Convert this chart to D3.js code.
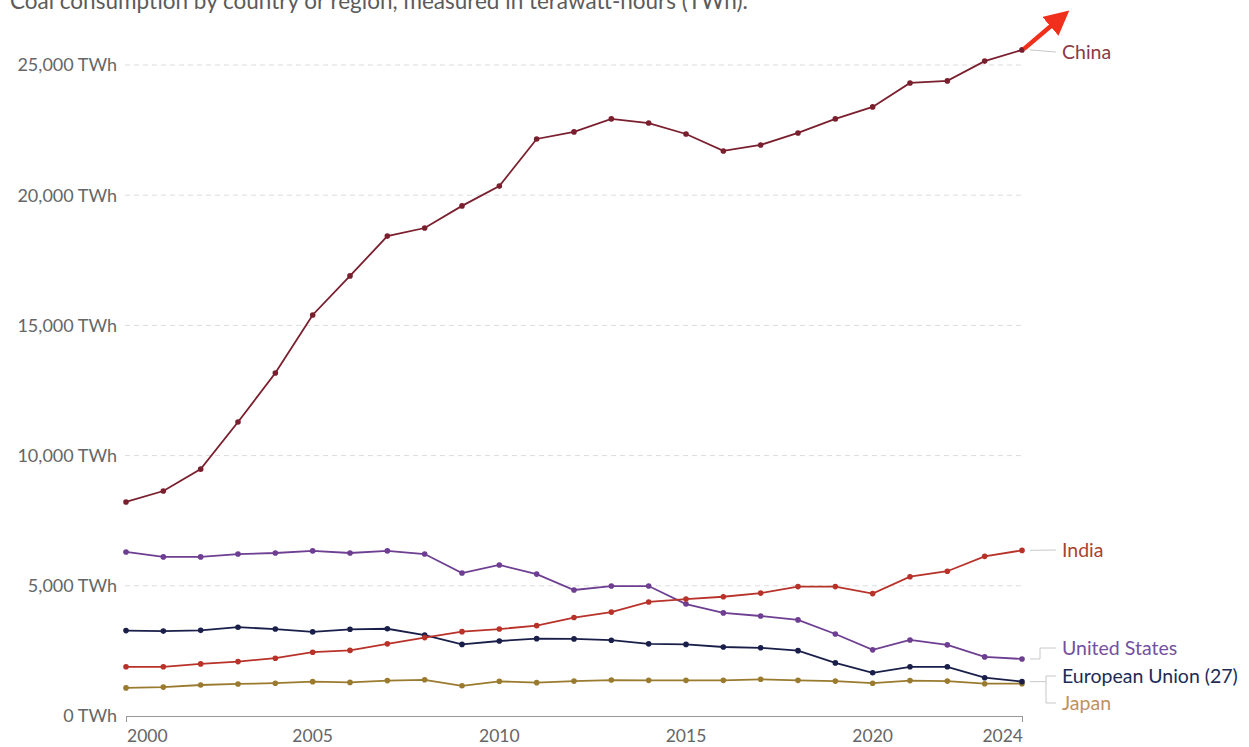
<!DOCTYPE html>
<html>
<head>
<meta charset="utf-8">
<script src="https://cdn.jsdelivr.net/npm/d3@7"></script>
<style>
  body { margin: 0; background: #fff; }
  svg { display: block; font-family: Lato, "Noto Sans", sans-serif; }
</style>
</head>
<body>
<svg width="1249" height="747"></svg>
<script>
// years 2000-2024
const years = [2000,2001,2002,2003,2004,2005,2006,2007,2008,2009,2010,2011,2012,2013,2014,2015,2016,2017,2018,2019,2020,2021,2022,2023,2024];
const china = [8220,8640,9480,11290,13170,15400,16900,18430,18740,19590,20350,22160,22430,22930,22770,22350,21700,21930,22390,22930,23390,24310,24390,25150,25580];
const india = [1890,1890,2000,2090,2220,2450,2520,2770,3010,3240,3340,3470,3780,3990,4380,4490,4580,4720,4970,4970,4700,5350,5560,6130,6360];
const unitedStates = [6300,6110,6110,6220,6260,6340,6260,6340,6220,5490,5800,5450,4840,4990,4990,4300,3960,3840,3690,3150,2540,2920,2730,2270,2190];
const europeanUnion = [3280,3260,3290,3410,3340,3230,3330,3350,3110,2750,2880,2970,2960,2910,2770,2750,2650,2620,2510,2040,1660,1890,1890,1470,1320];
const japan = [1080,1110,1190,1230,1260,1320,1290,1360,1390,1160,1330,1280,1340,1380,1370,1370,1370,1410,1370,1340,1260,1360,1340,1240,1240];
const yTicks = [0,5000,10000,15000,20000,25000];
const xTicks = [2000,2005,2010,2015,2020,2024];

const series = [
  {name: "China", values: china, color: "#7a1f2e", labelColor: "#8a3a48", labelY: 52},
  {name: "India", values: india, color: "#b8322a", labelColor: "#a8432e", labelY: 550},
  {name: "United States", values: unitedStates, color: "#6d3e91", labelColor: "#7550a0", labelY: 648},
  {name: "European Union (27)", values: europeanUnion, color: "#1a1f4a", labelColor: "#1d2b55", labelY: 676},
  {name: "Japan", values: japan, color: "#9a7a2e", labelColor: "#c0915e", labelY: 703}
];

const svg = d3.select("svg");
const x = d3.scaleLinear().domain([2000, 2024]).range([126, 1022]);
const y = d3.scaleLinear().domain([0, 25000]).range([716, 65]);

// subtitle, cut off at top like the source screenshot
svg.append("text")
  .attr("x", 10).attr("y", 9)
  .attr("font-size", "22.5px")
  .attr("fill", "#5b5b5b")
  .text("Coal consumption by country or region, measured in terawatt-hours (TWh).");

// gridlines + y labels
yTicks.forEach(function(t) {
  if (t > 0) {
    svg.append("line")
      .attr("x1", 125).attr("x2", 1022)
      .attr("y1", y(t)).attr("y2", y(t))
      .attr("stroke", "#dcdcdc")
      .attr("stroke-dasharray", "5,4");
  }
  svg.append("text")
    .attr("x", 117).attr("y", y(t))
    .attr("dy", "0.35em")
    .attr("text-anchor", "end")
    .attr("font-size", "18px")
    .attr("fill", "#666")
    .text(d3.format(",")(t) + " TWh");
});

// x axis
svg.append("line")
  .attr("x1", x(2000)).attr("x2", x(2024))
  .attr("y1", 716.5).attr("y2", 716.5)
  .attr("stroke", "#999");
[2000, 2024].forEach(function(t) {
  svg.append("line")
    .attr("x1", x(t) + 0.5).attr("x2", x(t) + 0.5)
    .attr("y1", 716).attr("y2", 722)
    .attr("stroke", "#999");
});
xTicks.forEach(function(t, i) {
  svg.append("text")
    .attr("x", i === 0 ? x(t) + 1 : (t === 2024 ? x(t) + 1 : x(t)))
    .attr("y", 742)
    .attr("text-anchor", i === 0 ? "start" : (t === 2024 ? "end" : "middle"))
    .attr("font-size", "17.5px")
    .attr("fill", "#666")
    .text(t);
});

// lines
const line = d3.line()
  .x(function(d, i) { return x(years[i]); })
  .y(function(d) { return y(d); });

series.slice().reverse().forEach(function(s) {
  svg.append("path")
    .datum(s.values)
    .attr("fill", "none")
    .attr("stroke", s.color)
    .attr("stroke-width", 1.8)
    .attr("d", line);
  svg.selectAll(null)
    .data(s.values)
    .enter().append("circle")
    .attr("cx", function(d, i) { return x(years[i]); })
    .attr("cy", function(d) { return y(d); })
    .attr("r", 2.8)
    .attr("fill", s.color);
});

// connectors and labels
const lastX = x(2024);
const conn = svg.append("g").attr("fill", "none").attr("stroke", "#c8c8c8").attr("stroke-width", 1);
series.forEach(function(s) {
  const yEnd = y(s.values[s.values.length - 1]);
  if (s.name === "China" || s.name === "India") {
    conn.append("path").attr("d", "M" + (lastX + 8) + "," + yEnd + "L" + 1056 + "," + s.labelY);
  } else if (s.name === "United States") {
    conn.append("path").attr("d", "M" + (lastX + 8) + "," + yEnd + "H1040V" + s.labelY + "H1056");
  }
  svg.append("text")
    .attr("x", 1062).attr("y", s.labelY)
    .attr("dy", "0.35em")
    .attr("font-size", "19.5px")
    .attr("fill", s.labelColor)
    .text(s.name);
});
// bracket for EU + Japan
const yEu = y(europeanUnion[europeanUnion.length - 1]);
conn.append("path").attr("d", "M" + (lastX + 8) + "," + yEu + "H1046");
conn.append("path").attr("d", "M1056,676H1046V703H1056");

// red arrow annotation
const defs = svg.append("defs");
defs.append("marker")
  .attr("id", "arrow")
  .attr("viewBox", "0 0 10 10")
  .attr("refX", 4).attr("refY", 5)
  .attr("markerWidth", 5.5).attr("markerHeight", 5.5)
  .attr("orient", "auto")
  .append("path")
  .attr("d", "M0,0L10,5L0,10z")
  .attr("fill", "#f0301c");
svg.append("line")
  .attr("x1", lastX + 2).attr("y1", y(china[china.length - 1]) - 1)
  .attr("x2", 1058).attr("y2", 20)
  .attr("stroke", "#f0301c")
  .attr("stroke-width", 4.5)
  .attr("marker-end", "url(#arrow)");
</script>
</body>
</html>
